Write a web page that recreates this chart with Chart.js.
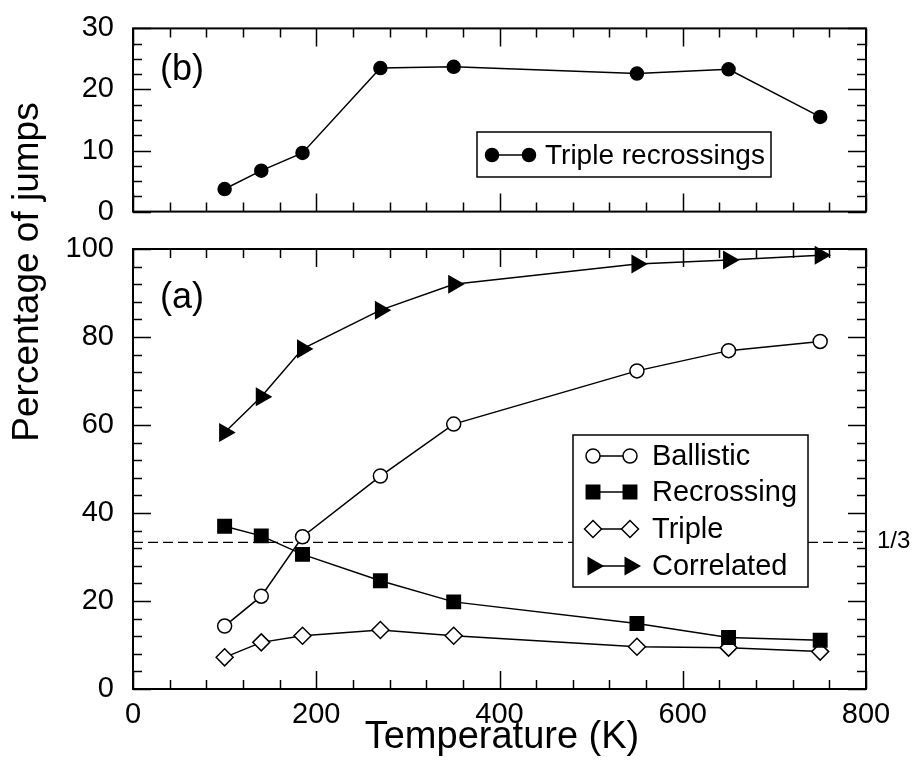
<!DOCTYPE html>
<html>
<head>
<meta charset="utf-8">
<script src="https://cdn.jsdelivr.net/npm/chart.js@4/dist/chart.umd.min.js"></script>
<style>
  html, body { margin: 0; padding: 0; background: #fff; }
  #wrap { position: relative; width: 919px; height: 769px; }
  #wrap canvas { position: absolute; left: 0; top: 0; }
</style>
</head>
<body>
<div id="wrap">
  <canvas id="chartA" width="919" height="769"></canvas>
  <canvas id="chartB" width="919" height="240"></canvas>
</div>
<script>
// temperatures (K)
var temps = [100, 140, 185, 270, 350, 550, 650, 750];

// panel (a): percentage of jumps
var ballistic  = [14.3, 21.1, 34.6, 48.4, 60.2, 72.3, 76.9, 79.0];
var recrossing = [37.0, 34.8, 30.6, 24.6, 19.8, 14.9, 11.7, 11.1];
var triple     = [7.2, 10.6, 12.1, 13.4, 12.1, 9.6, 9.4, 8.5];
var correlated = [58.3, 66.4, 77.3, 86.1, 92.0, 96.6, 97.5, 98.6];
var oneThird = 100 / 3;

// panel (b)
var tripleRecross = [3.7, 6.7, 9.6, 23.5, 23.7, 22.6, 23.3, 15.5];

// axis ranges and tick steps
var xRange = [0, 800], xMajor = 200, xMinor = 40;
var yRangeA = [0, 100], yMajorA = 20, yMinorA = 4;
var yRangeB = [0, 30], yMajorB = 10, yMinorB = 2.5;

var FONT = '"Liberation Sans", Arial, Helvetica, sans-serif';

function pts(ys) {
    return temps.map(function(t, i) { return { x: t, y: ys[i] }; });
}

// frame and inward ticks on all four sides
function frameTicks(xMaj, xMin, yMaj, yMin) {
    return {
        id: 'frameTicks',
        afterDatasetsDraw: function(chart) {
            var ctx = chart.ctx, a = chart.chartArea;
            var sx = chart.scales.x, sy = chart.scales.y;
            ctx.save();
            ctx.strokeStyle = '#000';
            ctx.lineWidth = 1.5;
            ctx.beginPath();
            for (var v = sx.min; v <= sx.max + 1e-6; v += xMin) {
                var px = Math.round(sx.getPixelForValue(v)) + 0.5;
                var len = (Math.abs(v / xMaj - Math.round(v / xMaj)) < 1e-6) ? 18 : 9;
                ctx.moveTo(px, a.bottom); ctx.lineTo(px, a.bottom - len);
                ctx.moveTo(px, a.top); ctx.lineTo(px, a.top + len);
            }
            for (var w = sy.min; w <= sy.max + 1e-6; w += yMin) {
                var py = Math.round(sy.getPixelForValue(w)) + 0.5;
                var l2 = (Math.abs(w / yMaj - Math.round(w / yMaj)) < 1e-6) ? 18 : 9;
                ctx.moveTo(a.left, py); ctx.lineTo(a.left + l2, py);
                ctx.moveTo(a.right, py); ctx.lineTo(a.right - l2, py);
            }
            ctx.stroke();
            ctx.lineWidth = 2;
            ctx.strokeRect(a.left, a.top, a.right - a.left, a.bottom - a.top);
            ctx.restore();
        }
    };
}

// boxed legend: one row per dataset, marker - line - marker + label
function boxLegend(box, rows) {
    return {
        id: 'boxLegend',
        afterDraw: function(chart) {
            var ctx = chart.ctx;
            ctx.save();
            ctx.fillStyle = '#fff';
            ctx.fillRect(box.x, box.y, box.w, box.h);
            ctx.strokeStyle = '#000';
            ctx.lineWidth = 1.5;
            ctx.strokeRect(box.x, box.y, box.w, box.h);
            rows.forEach(function(r) {
                var ds = chart.data.datasets[r.index];
                ctx.strokeStyle = '#000';
                ctx.lineWidth = 1.5;
                ctx.beginPath();
                ctx.moveTo(box.m1, r.y); ctx.lineTo(box.m2, r.y);
                ctx.stroke();
                var style = {
                    pointStyle: ds.pointStyle, rotation: ds.pointRotation || 0,
                    radius: ds.pointRadius, borderWidth: ds.pointBorderWidth
                };
                ctx.fillStyle = ds.pointBackgroundColor;
                ctx.strokeStyle = '#000';
                ctx.lineWidth = ds.pointBorderWidth;
                Chart.helpers.drawPoint(ctx, style, box.m1, r.y);
                ctx.fillStyle = ds.pointBackgroundColor;
                Chart.helpers.drawPoint(ctx, style, box.m2, r.y);
                ctx.fillStyle = '#000';
                ctx.font = box.font + 'px ' + FONT;
                ctx.textBaseline = 'middle';
                ctx.textAlign = 'left';
                ctx.fillText(r.label, box.tx, r.y + 1);
            });
            ctx.restore();
        }
    };
}

// free texts: panel letters, axis titles, 1/3 mark
function texts(items) {
    return {
        id: 'texts',
        afterDraw: function(chart) {
            var ctx = chart.ctx;
            ctx.save();
            ctx.fillStyle = '#000';
            items.forEach(function(t) {
                ctx.save();
                ctx.translate(t.x, t.y);
                if (t.rot) ctx.rotate(t.rot);
                ctx.font = t.size + 'px ' + FONT;
                ctx.textAlign = t.align || 'left';
                ctx.textBaseline = 'middle';
                ctx.fillText(t.text, 0, 0);
                ctx.restore();
            });
            ctx.restore();
        }
    };
}

function lineSet(label, ys, style, radius, fill, rot) {
    return {
        label: label,
        data: pts(ys),
        borderColor: '#000',
        borderWidth: 1.5,
        pointStyle: style,
        pointRadius: radius,
        pointRotation: rot || 0,
        pointBackgroundColor: fill,
        pointBorderColor: '#000',
        pointBorderWidth: 1.5,
        tension: 0,
        clip: false
    };
}

// panel (a)
new Chart(document.getElementById('chartA'), {
    type: 'line',
    data: {
        datasets: [
            lineSet('Ballistic', ballistic, 'circle', 7, '#fff'),
            lineSet('Recrossing', recrossing, 'rect', 9.5, '#000'),
            lineSet('Triple', triple, 'rectRot', 8.5, '#fff'),
            lineSet('Correlated', correlated, 'triangle', 9.5, '#000', 90),
            {
                label: '1/3',
                data: [{ x: xRange[0], y: oneThird }, { x: xRange[1], y: oneThird }],
                borderColor: '#000',
                borderWidth: 1.3,
                borderDash: [10, 5],
                pointRadius: 0
            }
        ]
    },
    options: {
        responsive: false,
        animation: false,
        layout: { padding: { left: 0, right: 53, top: 249, bottom: 0 } },
        plugins: { legend: { display: false }, tooltip: { enabled: false } },
        scales: {
            x: {
                type: 'linear', min: xRange[0], max: xRange[1],
                grid: { display: false }, border: { display: false },
                ticks: { stepSize: xMajor, color: '#000', padding: 1, maxRotation: 0,
                         font: { family: FONT, size: 29 } },
                afterFit: function(s) { s.height = 80; }
            },
            y: {
                min: yRangeA[0], max: yRangeA[1],
                grid: { display: false }, border: { display: false },
                ticks: { stepSize: yMajorA, color: '#000', padding: 11,
                         font: { family: FONT, size: 29 } },
                afterFit: function(s) { s.width = 133; }
            }
        }
    },
    plugins: [
        frameTicks(xMajor, xMinor, yMajorA, yMinorA),
        boxLegend({ x: 573, y: 435, w: 235, h: 152, m1: 593, m2: 630, tx: 652, font: 29 }, [
            { index: 0, label: 'Ballistic', y: 456 },
            { index: 1, label: 'Recrossing', y: 492 },
            { index: 2, label: 'Triple', y: 529 },
            { index: 3, label: 'Correlated', y: 566 }
        ]),
        texts([
            { text: '(a)', x: 160, y: 298, size: 36 },
            { text: '1/3', x: 877, y: 541, size: 24 },
            { text: 'Temperature (K)', x: 502, y: 738, size: 38, align: 'center' },
            { text: 'Percentage of jumps', x: 28, y: 272, size: 37, align: 'center', rot: -Math.PI / 2 }
        ])
    ]
});

// panel (b)
new Chart(document.getElementById('chartB'), {
    type: 'line',
    data: {
        datasets: [
            lineSet('Triple recrossings', tripleRecross, 'circle', 6.5, '#000')
        ]
    },
    options: {
        responsive: false,
        animation: false,
        layout: { padding: { left: 0, right: 53, top: 26, bottom: 20 } },
        plugins: { legend: { display: false }, tooltip: { enabled: false } },
        scales: {
            x: { type: 'linear', display: false, min: xRange[0], max: xRange[1] },
            y: {
                min: yRangeB[0], max: yRangeB[1],
                grid: { display: false }, border: { display: false },
                ticks: { stepSize: yMajorB, color: '#000', padding: 11,
                         font: { family: FONT, size: 29 } },
                afterFit: function(s) { s.width = 133; }
            }
        }
    },
    plugins: [
        frameTicks(xMajor, xMinor, yMajorB, yMinorB),
        boxLegend({ x: 477, y: 132, w: 294, h: 45, m1: 492, m2: 529, tx: 545, font: 28 }, [
            { index: 0, label: 'Triple recrossings', y: 155 }
        ]),
        texts([
            { text: '(b)', x: 160, y: 70, size: 36 }
        ])
    ]
});
</script>
</body>
</html>
